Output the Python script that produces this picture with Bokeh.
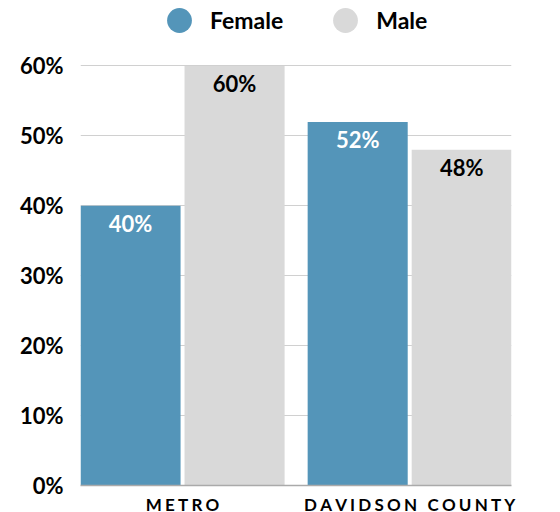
from bokeh.plotting import figure
from bokeh.models import (ColumnDataSource, Range1d, FixedTicker, NumeralTickFormatter,
                          Legend, LegendItem)
from bokeh.core.properties import value
from bokeh.embed import file_html
from bokeh.resources import INLINE

# ---- data ----
groups = ["METRO", "DAVIDSON COUNTY"]
series = ["Female", "Male"]
female = [0.40, 0.52]
male = [0.60, 0.48]
y_ticks = [0.0, 0.1, 0.2, 0.3, 0.4, 0.5, 0.6]

# ---- style ----
FONT = "Lato"
BLUE = "#5495b9"
GRAY = "#d9d9d9"
OFFSET = 0.229
WIDTH = 0.4405
Y_TOP = 0.6 * 489 / 423   # headroom above the 60% line for the legend
NAN = float("nan")

def spaced(s):
    return "\u2009\u200a".join(list(s))

idx = list(range(len(groups)))
src_f = ColumnDataSource(dict(x=[i - OFFSET for i in idx], top=female,
                              lab=[f"{round(v*100)}%" for v in female]))
src_m = ColumnDataSource(dict(x=[i + OFFSET for i in idx], top=male,
                              lab=[f"{round(v*100)}%" for v in male]))

p = figure(width=544, height=517, output_backend="svg", toolbar_location=None,
           x_range=Range1d(-0.4493, 1.4482), y_range=Range1d(0, Y_TOP),
           min_border_left=80, min_border_right=33, min_border_top=0,
           min_border_bottom=20)
p.outline_line_color = None
p.background_fill_color = "white"

rf = p.vbar(x="x", top="top", width=WIDTH, source=src_f, fill_color=BLUE, line_color=None)
rm = p.vbar(x="x", top="top", width=WIDTH, source=src_m, fill_color=GRAY, line_color=None)

p.text(x="x", y="top", text="lab", source=src_f, text_align="center", text_baseline="top",
       y_offset=4, text_font=value(FONT), text_font_style="bold", text_font_size="22px",
       text_color="white")
p.text(x="x", y="top", text="lab", source=src_m, text_align="center", text_baseline="top",
       y_offset=4, text_font=value(FONT), text_font_style="bold", text_font_size="22px",
       text_color="black")

# axes
p.yaxis.ticker = FixedTicker(ticks=y_ticks)
p.yaxis.formatter = NumeralTickFormatter(format="0%")
p.yaxis.axis_line_color = None
p.yaxis.major_tick_line_color = None
p.yaxis.minor_tick_line_color = None
p.yaxis.major_tick_out = 0
p.yaxis.major_label_standoff = 17
p.yaxis.major_label_text_font = FONT
p.yaxis.major_label_text_font_style = "bold"
p.yaxis.major_label_text_font_size = "22px"
p.yaxis.major_label_text_color = "black"

p.xaxis.ticker = FixedTicker(ticks=idx)
p.xaxis.major_label_overrides = {i: spaced(g) for i, g in zip(idx, groups)}
p.xaxis.axis_line_color = "#aaaaaa"
p.xaxis.axis_line_width = 1.5
p.xaxis.major_tick_line_color = None
p.xaxis.minor_tick_line_color = None
p.xaxis.major_tick_out = 0
p.xaxis.major_label_standoff = 8
p.xaxis.major_label_text_font = FONT
p.xaxis.major_label_text_font_style = "bold"
p.xaxis.major_label_text_font_size = "17px"
p.xaxis.major_label_text_color = "black"

p.xgrid.grid_line_color = None
p.ygrid.ticker = FixedTicker(ticks=y_ticks)
p.ygrid.grid_line_color = "#d0d0d0"
p.ygrid.grid_line_width = 1

# legend with circle markers (renderers hold no visible point)
lf = p.scatter(x=[NAN], y=[NAN], marker="circle", size=25, fill_color=BLUE, line_color=None)
lm = p.scatter(x=[NAN], y=[NAN], marker="circle", size=25, fill_color=GRAY, line_color=None)
legend = Legend(items=[LegendItem(label=series[0], renderers=[lf]),
                       LegendItem(label=series[1], renderers=[lm])],
                orientation="horizontal", location=(68, 434),
                glyph_width=62, glyph_height=62, label_standoff=0, spacing=31,
                padding=0, margin=0, border_line_color=None,
                background_fill_alpha=0,
                label_text_font=FONT, label_text_font_style="bold",
                label_text_font_size="23px", label_text_color="black")
p.add_layout(legend, "center")

open("out.html", "w").write(file_html(p, INLINE))
